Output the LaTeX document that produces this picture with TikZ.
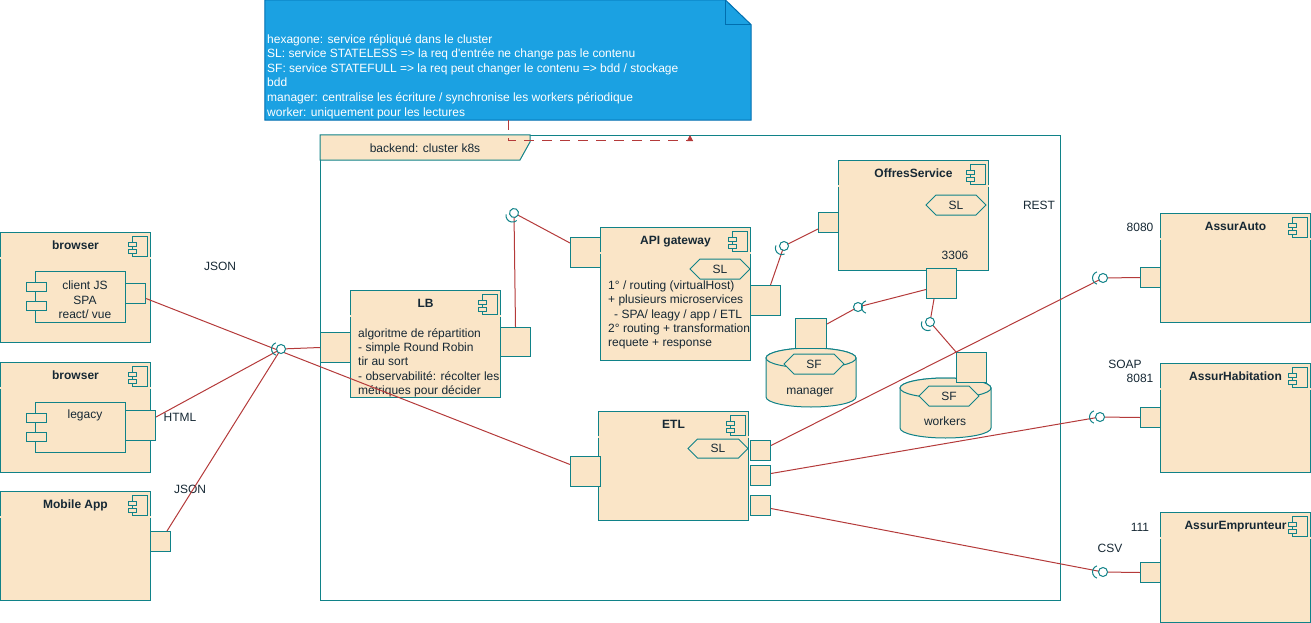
\documentclass[tikz,border=0pt]{standalone}
\usepackage{fontspec}
\setmainfont{Liberation Sans}[Ligatures=TeXOff]
\definecolor{boxfill}{RGB}{250,229,199}
\definecolor{tealline}{RGB}{16,130,136}
\definecolor{noteblue}{RGB}{27,161,226}
\definecolor{noteedge}{RGB}{0,110,175}
\definecolor{wirered}{RGB}{180,58,58}
\definecolor{inktext}{RGB}{22,40,52}
\usetikzlibrary{shapes.symbols, arrows.meta, calc}

\tikzset{
  comp/.style={draw=tealline, fill=boxfill, line width=1pt, anchor=north west, inner sep=0pt},
  port/.style={comp},
  iconline/.style={draw=tealline, fill=boxfill, line width=0.8pt},
  txt/.style={text=inktext, inner sep=0pt},
  lbl/.style={txt, text height=9pt, text depth=2pt},
  head/.style={lbl, font=\fontsize{12}{14.4}\selectfont\bfseries},
  hexa/.style={signal, signal to=west and east, draw=tealline, fill=boxfill, line width=1pt,
    minimum width=60pt, minimum height=20pt, inner sep=0pt, text=inktext},
  wire/.style={draw=wirered, line width=1pt},
  sock/.style={draw=tealline, line width=1pt},
  sepline/.style={draw=gray, line width=0.8pt, double=boxfill, double distance=1.2pt},
  db/.style={draw=tealline, fill=boxfill, line width=1pt},
  cicon/.pic={
    \draw[iconline] (-15,0) rectangle (0,20);
    \draw[iconline] (-19,6) rectangle (-11,10);
    \draw[iconline] (-19,13) rectangle (-11,17);
  },
  lolli/.pic={
    \draw[sock, fill=white] (0,0) circle[radius=4.5pt];
    \draw[sock] ([shift={(#1,0)}]110:6.5pt) arc[start angle=110, end angle=250, radius=6.5pt];
  },
}

\begin{document}
\begin{tikzpicture}[x=1pt, y=-1pt, font=\fontsize{12}{14.4}\selectfont]
  \useasboundingbox (0,0) rectangle (1311,623);

  % legend note
  \node[minimum width=486pt, minimum height=120pt, inner sep=0pt] (note) at (508,60) {};
  \draw[fill=noteblue, draw=noteedge, line width=1pt] (note.north west) -- ($(note.north east)+(-26,0)$)
    -- ($(note.north east)+(0,25)$) -- (note.south east) -- (note.south west) -- cycle;
  \draw[draw=noteedge, line width=1pt] ($(note.north east)+(-26,0)$) -- ($(note.north east)+(-26,25)$) -- ($(note.north east)+(0,25)$);
  \node[txt, text=white, anchor=north west, align=left, font=\fontsize{12}{14.6}\selectfont] (notetxt) at (267,34) {
    hexagone: service répliqué dans le cluster\\
    SL: service STATELESS => la req d'entrée ne change pas le contenu\\
    SF: service STATEFULL => la req peut changer le contenu => bdd / stockage\\
    bdd\\
    manager: centralise les écriture / synchronise les workers périodique\\
    worker: uniquement pour les lectures
  };

  % cluster frame
  \node[draw=tealline, line width=1pt, minimum width=740pt, minimum height=465pt, anchor=north west, inner sep=0pt] (k8s) at (320,135) {};
  \draw[fill=boxfill, draw=tealline, line width=1pt] (k8s.north west) -- ++(210,0) -- ++(0,7) -- ++(-10,18) -- ++(-200,0) -- cycle;
  \node[lbl] (k8stxt) at (425,149) {backend: cluster k8s};
  \draw[wire, dash pattern=on 10pt off 8pt, -{Triangle[length=6pt, width=6pt]}] (note.south) -- ++(0,20) -| ($(k8s.north west)+(370,0)$);

  % clients
  \node[comp, minimum width=150pt, minimum height=110pt] (browserA) at (0,232) {};
  \node[head] (browserAhd) at ($(browserA.north)+(0,13.5)$) {browser};
  \node[comp, minimum width=90pt, minimum height=51pt] (jsbox) at (35,271) {};
  \draw[iconline] ($(jsbox.north west)+(-9,11)$) rectangle ++(20,9);
  \draw[iconline] ($(jsbox.north west)+(-9,30)$) rectangle ++(20,9);
  \node[port, minimum width=20pt, minimum height=20pt] (jsport) at (125,283) {};
  \node[txt, align=center] (jstxt) at (85,300) {client JS\\SPA\\react/ vue};

  \node[comp, minimum width=150pt, minimum height=110pt] (browserB) at (0,362) {};
  \node[head] (browserBhd) at ($(browserB.north)+(0,13.5)$) {browser};
  \node[comp, minimum width=90pt, minimum height=50pt] (legbox) at (35,402) {};
  \draw[iconline] ($(legbox.north west)+(-9,11)$) rectangle ++(20,9);
  \draw[iconline] ($(legbox.north west)+(-9,30)$) rectangle ++(20,9);
  \node[port, minimum width=30pt, minimum height=30pt] (legport) at (125,410) {};
  \node[lbl] (legtxt) at (85,415) {legacy};

  \node[comp, minimum width=150pt, minimum height=109pt] (mobileapp) at (0,491) {};
  \node[head] (mobilehd) at ($(mobileapp.north)+(0,13.5)$) {Mobile App};
  \node[port, minimum width=20pt, minimum height=20pt] (mobport) at (150,531) {};

  % backend
  \node[comp, minimum width=150pt, minimum height=107pt] (lb) at (350,290) {};
  \node[head] (lbhd) at ($(lb.north)+(0,13.5)$) {LB};
  \node[port, minimum width=30pt, minimum height=30pt] (lbin) at (320,332) {};
  \node[port, minimum width=30pt, minimum height=29pt] (lbout) at (500,327) {};
  \node[txt, anchor=north west, align=left] (lbtxt) at (358,328) {algoritme de répartition\\- simple Round Robin\\tir au sort\\- observabilité: récolter les\\métriques pour décider};

  \node[comp, minimum width=150pt, minimum height=133pt] (apigw) at (600,227) {};
  \node[head] (apihd) at ($(apigw.north)+(0,13.5)$) {API gateway};
  \node[port, minimum width=30pt, minimum height=30pt] (apiin) at (570,237) {};
  \node[port, minimum width=30pt, minimum height=30pt] (apiout) at (750,285) {};
  \node[hexa] (apisl) at (720,269) {SL};
  \node[txt, anchor=north west, align=left] (apitxt) at (608,280.5) {1° / routing (virtualHost)\\+ plusieurs microservices\\\hspace*{6pt}- SPA/ leagy / app / ETL\\2° routing + transformation\\requete + response};

  \node[comp, minimum width=150pt, minimum height=110pt] (offres) at (838,160) {};
  \node[head] (offhd) at ($(offres.north)+(0,13.5)$) {OffresService};
  \node[port, minimum width=20pt, minimum height=20pt] (offin) at (818,212) {};
  \node[port, minimum width=30pt, minimum height=30pt] (offdb) at (926,268) {};
  \node[hexa] (offsl) at (956,205) {SL};
  \node[lbl] (port3306) at (955,256) {3306};

  % databases
  \draw[db] (766,358) -- (766,397) arc[start angle=180, end angle=360, x radius=45pt, y radius=10pt] -- (856,358)
    arc[start angle=0, end angle=180, x radius=45pt, y radius=10pt] -- cycle;
  \draw[db] (811,358) ellipse[x radius=45pt, y radius=10pt];
  \node[hexa] (mgsf) at (814,364) {SF};
  \node[lbl] (mgtxt) at (810,391) {manager};
  \node[port, minimum width=31pt, minimum height=30pt] (mgport) at (795,318) {};

  \draw[db] (900,388) -- (900,428) arc[start angle=180, end angle=360, x radius=45.5pt, y radius=10pt] -- (991,388)
    arc[start angle=0, end angle=180, x radius=45.5pt, y radius=10pt] -- cycle;
  \draw[db] (945.5,388) ellipse[x radius=45.5pt, y radius=10pt];
  \node[hexa] (wksf) at (949,396) {SF};
  \node[lbl] (wktxt) at (945,422) {workers};
  \node[port, minimum width=30pt, minimum height=30pt] (wkport) at (956,352) {};

  \node[comp, minimum width=150pt, minimum height=109pt] (etl) at (598,411) {};
  \node[head] (etlhd) at ($(etl.north)+(0,13.5)$) {ETL};
  \node[port, minimum width=30pt, minimum height=30pt] (etlin) at (570,456) {};
  \node[port, minimum width=20pt, minimum height=20pt] (etlA) at (750,440) {};
  \node[port, minimum width=20pt, minimum height=20pt] (etlB) at (750,465) {};
  \node[port, minimum width=20pt, minimum height=20pt] (etlC) at (750,495) {};
  \node[hexa, minimum height=19pt] (etlsl) at (718,448.5) {SL};

  % partners
  \node[comp, minimum width=150pt, minimum height=109pt] (assurauto) at (1160,213) {};
  \node[head] (autohd) at ($(assurauto.north)+(0,13.5)$) {AssurAuto};
  \node[port, minimum width=20pt, minimum height=20pt] (autoin) at (1140,267) {};

  \node[comp, minimum width=150pt, minimum height=109pt] (assurhab) at (1160,363) {};
  \node[head] (habhd) at ($(assurhab.north)+(0,13.5)$) {AssurHabitation};
  \node[port, minimum width=20pt, minimum height=20pt] (habin) at (1140,407) {};

  \node[comp, minimum width=150pt, minimum height=110pt] (assuremp) at (1160,512) {};
  \node[head] (emphd) at ($(assuremp.north)+(0,13.5)$) {AssurEmprunteur};
  \node[port, minimum width=20pt, minimum height=20pt] (empin) at (1140,562) {};

  \foreach \b in {browserA,browserB,mobileapp,lb,apigw,offres,etl,assurauto,assurhab,assuremp} {
    \draw[sepline] ($(\b.north west)+(0,26)$) -- ($(\b.north east)+(0,26)$);
    \pic at ($(\b.north east)+(-4,4)$) {cicon};
  }

  % labels
  \node[lbl] (jsonA) at (220,266.5) {JSON};
  \node[lbl] (html) at (180,417.5) {HTML};
  \node[lbl] (jsonB) at (190,489.5) {JSON};
  \node[lbl] (rest) at (1039,205.5) {REST};
  \node[lbl] (port8080) at (1140,227.5) {8080};
  \node[lbl] (soap) at (1125,364.5) {SOAP};
  \node[lbl] (port8081) at (1140,378.5) {8081};
  \node[lbl] (port111) at (1140,527.5) {111};
  \node[lbl] (csv) at (1110,548.5) {CSV};

  % wires
  \coordinate (hub) at (281,349);
  \coordinate (lbsock) at (514,213);
  \coordinate (apisock) at (784,246);
  \coordinate (mgsock) at (858,307);
  \coordinate (wksock) at (930,322);
  \coordinate (autosock) at (1103,278);
  \coordinate (habsock) at (1100,417);
  \coordinate (empsock) at (1103,572);

  \draw[wire] ($(jsport.east)+(0,5)$) -- ($(etlin.west)+(0,-7)$);
  \draw[wire] ($(legport.north east)+(0,7)$) -- (hub);
  \draw[wire] ($(mobport.north east)+(-4,0)$) -- (hub);
  \draw[wire] (hub) -- (lbin.west);
  \draw[wire] (lbout.north) -- (lbsock) -- ($(apiin.north west)+(0,6)$);
  \draw[wire] ($(apiout.north)+(5,0)$) -- (apisock) -- ($(offin.south west)+(0,-4)$);
  \draw[wire] ($(offdb.west)+(0,6)$) -- (mgsock) -- ($(mgport.north east)+(0,6)$);
  \draw[wire] ($(offdb.south west)+(8,0)$) -- (wksock) -- (wkport.north west);
  \draw[wire] ($(etlA.east)+(0,-5)$) -- (autosock) -- (autoin.west);
  \draw[wire] ($(etlB.east)+(0,-2)$) -- (habsock) -- (habin.west);
  \draw[wire] ($(etlC.east)+(0,3)$) -- (empsock) -- (empin.west);

  \pic at (hub) {lolli=-3};
  \pic[rotate=60] at (lbsock) {lolli=-3};
  \pic[rotate=45] at (apisock) {lolli=-3};
  \pic at (mgsock) {lolli=10};
  \pic[rotate=45] at (wksock) {lolli=-3};
  \pic at (autosock) {lolli=-4};
  \pic at (habsock) {lolli=-4};
  \pic at (empsock) {lolli=-4};
\end{tikzpicture}
\end{document}
